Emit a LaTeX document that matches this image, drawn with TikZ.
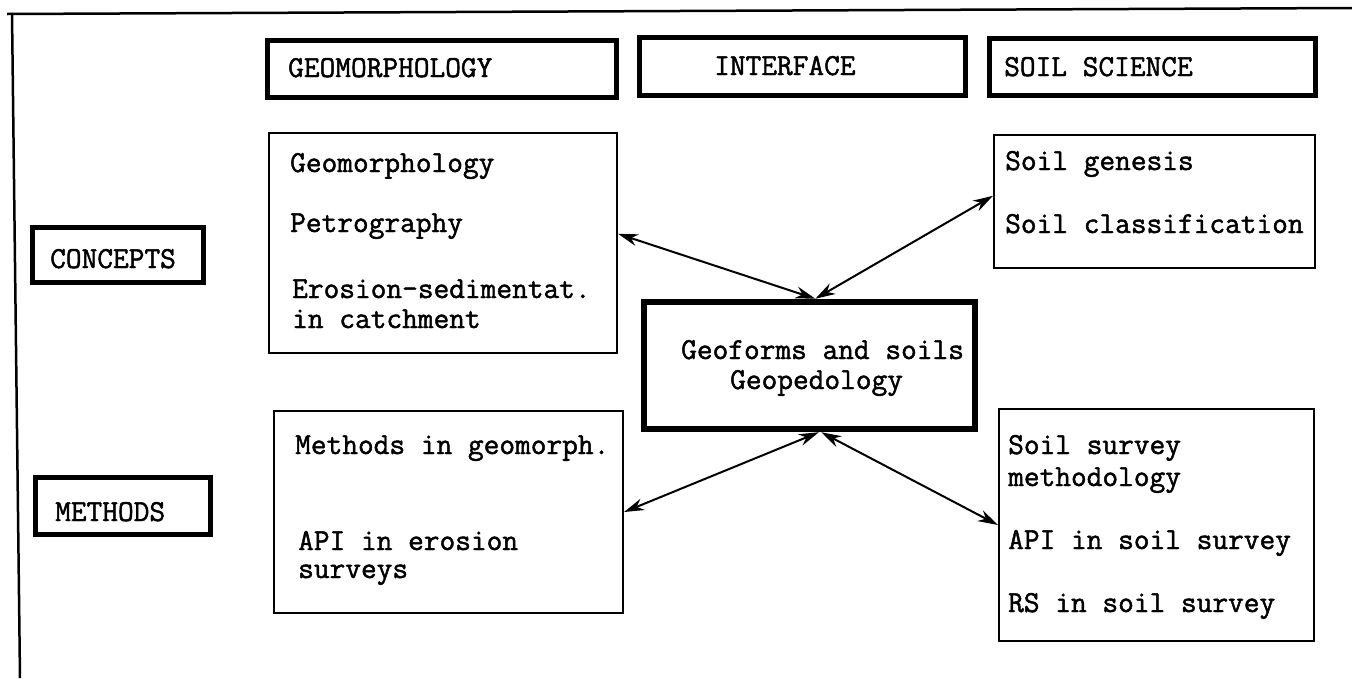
\documentclass[tikz,border=0pt]{standalone}
\usepackage{fontspec}
\usetikzlibrary{arrows.meta}
% typewriter face, slightly emboldened
\newfontfamily\typer{Latin Modern Mono}[BoldFont={Latin Modern Mono}, BoldFeatures={FakeBold=1.5}]
\begin{document}
\begin{tikzpicture}[x=1pt,y=-1pt,
  every node/.style={font=\typer\bfseries\fontsize{30.5}{30}\selectfont},
  box/.style={draw, line width=2.2pt, rectangle, inner sep=0pt},
  heavybox/.style={draw, line width=5pt, rectangle, inner sep=0pt},
  corebox/.style={draw, line width=6.5pt, rectangle, inner sep=0pt},
  label/.style={anchor=base west, inner sep=0pt},
  link/.style={line width=2pt, {Stealth[length=20pt,width=12pt]}-{Stealth[length=20pt,width=12pt]}},
  frame/.style={line width=2.5pt}]
\useasboundingbox (0,0) rectangle (1352,678);
\fill[white] (0,0) rectangle (1352,678);

% outer frame (top and left edges)
\coordinate (ftl) at (12,13);
\coordinate (ftr) at (1352,8);
\coordinate (fbl) at (20,678);
\draw[frame] (7,14) -- (ftr);
\draw[frame] (ftl) -- (fbl);

% column headers
\node[heavybox, minimum width=349pt, minimum height=57pt] (geoh) at (441.5,68.5) {};
\node[heavybox, minimum width=326pt, minimum height=58pt] (intf) at (802,66) {};
\node[heavybox, minimum width=326pt, minimum height=57pt] (soilh) at (1152,66.5) {};
\node[label] (geohT) at (288,77) {GEOMORPHOLOGY};
\node[label] (intfT) at (714,75) {INTERFACE};
\node[label] (soilhT) at (1004,76) {SOIL SCIENCE};

% row headers
\node[heavybox, minimum width=171pt, minimum height=55pt] (conc) at (117.5,254.5) {};
\node[heavybox, minimum width=175pt, minimum height=57pt] (meth) at (122.5,505.5) {};
\node[label] (concT) at (50,268) {CONCEPTS};
\node[label] (methT) at (55,521) {METHODS};

% content boxes
\node[box, minimum width=348pt, minimum height=220pt] (gc) at (443,243) {};
\node[box, minimum width=321pt, minimum height=133pt] (sc) at (1154.5,201.5) {};
\node[corebox, minimum width=331pt, minimum height=127pt] (cb) at (809.5,365.5) {};
\node[box, minimum width=349pt, minimum height=202pt] (mg) at (448.5,512) {};
\node[box, minimum width=315pt, minimum height=232pt] (sm) at (1156.5,525) {};

% geomorphology concepts
\node[label] (gc1) at (290,172) {Geomorphology};
\node[label] (gc2) at (290,232) {Petrography};
\node[label] (gc3) at (292,298) {Erosion-sedimentat.};
\node[label] (gc4) at (292,328) {in catchment};

% soil science concepts
\node[label] (sc1) at (1005,170) {Soil genesis};
\node[label] (sc2) at (1005,233) {Soil classification};

% interface
\node[label] (cb1) at (681,359) {Geoforms and soils};
\node[label] (cb2) at (730,389) {Geopedology};

% geomorphology methods
\node[label] (mg1) at (295,454) {Methods in geomorph.};
\node[label] (mg2) at (298,550) {API in erosion};
\node[label] (mg3) at (298,578) {surveys};

% soil science methods
\node[label] (sm1) at (1008,454) {Soil survey};
\node[label] (sm2) at (1008,486) {methodology};
\node[label] (sm3) at (1008,549) {API in soil survey};
\node[label] (sm4) at (1008,612) {RS in soil survey};

% links to the interface box
\draw[link] (gc.3) -- (cb.85);
\draw[link] (sc.178) -- (cb.85);
\draw[link] (cb.-82) -- (mg.east);
\draw[link] (cb.-80) -- (sm.west);
\end{tikzpicture}
\end{document}
